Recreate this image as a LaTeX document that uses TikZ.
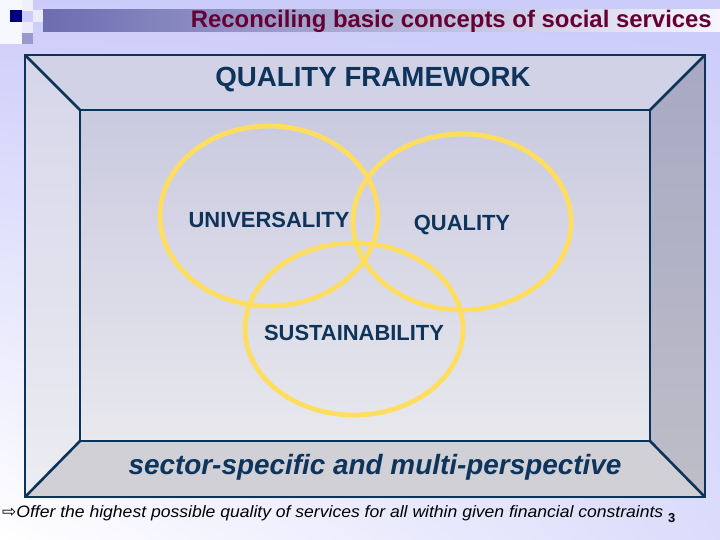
\documentclass[tikz,border=0pt]{standalone}
\usepackage{fontspec}
\usetikzlibrary{shadings}
\setmainfont{Liberation Sans}
\newfontfamily\symfont{DejaVu Sans}
\definecolor{bgtop}{RGB}{204,204,250}
\definecolor{bgbot}{RGB}{246,246,252}
\definecolor{navy}{RGB}{14,52,92}
\definecolor{maroon}{RGB}{102,0,51}
\definecolor{ringyel}{RGB}{255,222,95}
\definecolor{edge}{RGB}{12,51,88}
\definecolor{sqlav}{RGB}{153,153,204}
\definecolor{sqdark}{RGB}{0,0,128}
\definecolor{barl}{RGB}{108,108,176}
\definecolor{barr}{RGB}{246,246,255}
\definecolor{ptop}{RGB}{210,210,230}
\definecolor{pleftt}{RGB}{214,214,234}
\definecolor{pleftb}{RGB}{236,236,242}
\definecolor{prightt}{RGB}{168,168,196}
\definecolor{prightb}{RGB}{190,190,200}
\definecolor{pbot}{RGB}{208,208,214}
\definecolor{innt}{RGB}{202,202,224}
\definecolor{innb}{RGB}{232,232,238}
\tikzset{
  panel/.style={draw=edge, line width=2.6pt, line join=miter},
  ring/.style={draw=ringyel, line width=4.8pt},
  lbl/.style={text=navy, font=\bfseries\fontsize{22}{24}\selectfont, inner sep=0pt},
}
\begin{document}
\begin{tikzpicture}[x=1bp,y=-1bp]
\useasboundingbox (0,0) rectangle (720,540);
% background
\shade[upper left=bgtop, upper right=bgtop, lower left=white, lower right=bgtop!70!white] (0,0) rectangle (720,540);
% top-left decoration
\fill[white!85!bgtop] (0,0) rectangle (22,44);
\fill[white!70!bgtop] (22,0) rectangle (33,11);
\fill[white!60!bgtop] (33,10) rectangle (43,22);
\fill[white!60!bgtop] (22,22) rectangle (33,33);
\fill[sqlav] (22,33) rectangle (33,44);
\fill[sqdark] (10,10) rectangle (22,22);
% title bar
\shade[left color=barl, right color=barr] (43,10) rectangle (720,32);
\node[text=maroon, font=\bfseries\fontsize{24}{26}\selectfont, anchor=east, inner sep=0pt] (title) at (712,21) {Reconciling basic concepts of social services};
% frame
\coordinate (otl) at (25,55); \coordinate (otr) at (705,55);
\coordinate (obr) at (705,497); \coordinate (obl) at (25,497);
\coordinate (itl) at (80,110); \coordinate (itr) at (650,110);
\coordinate (ibr) at (650,441); \coordinate (ibl) at (80,441);
\fill[ptop] (otl) -- (otr) -- (itr) -- (itl) -- cycle;
\shade[top color=pleftt, bottom color=pleftb] (otl) -- (itl) -- (ibl) -- (obl) -- cycle;
\shade[top color=prightt, bottom color=prightb] (otr) -- (obr) -- (ibr) -- (itr) -- cycle;
\fill[pbot] (ibl) -- (ibr) -- (obr) -- (obl) -- cycle;
\shade[top color=innt, bottom color=innb] (itl) rectangle (ibr);
\draw[panel] (otl) rectangle (obr);
\draw[panel] (itl) rectangle (ibr);
\draw[panel] (otl) -- (itl) (otr) -- (itr) (obl) -- (ibl) (obr) -- (ibr);
% rings
\draw[ring] (269,216) ellipse [x radius=109, y radius=90];
\draw[ring] (462,222) ellipse [x radius=109, y radius=88];
\draw[ring] (354,329) ellipse [x radius=109, y radius=86];
% labels
\node[lbl, font=\bfseries\fontsize{27.8}{30}\selectfont] (qf) at (373,80) {QUALITY FRAMEWORK};
\node[lbl] (univ) at (269,220) {UNIVERSALITY};
\node[lbl] (qual) at (462,225) {QUALITY};
\node[lbl] (sust) at (354,333) {SUSTAINABILITY};
\node[lbl, font=\bfseries\itshape\fontsize{28}{30}\selectfont] (sector) at (375,467) {sector-specific and multi-perspective};
% footer
\node[anchor=west, inner sep=0pt, text=black] (offer) at (2,513) {{\symfont\fontsize{17}{18}\selectfont ⇨}\scalebox{1.068}[1]{\itshape\fontsize{16.5}{18}\selectfont Offer the highest possible quality of services for all within given financial constraints}};
\node[anchor=west, inner sep=0pt, font=\bfseries\fontsize{13}{15}\selectfont] (pg) at (668,518) {3};
\end{tikzpicture}
\end{document}
